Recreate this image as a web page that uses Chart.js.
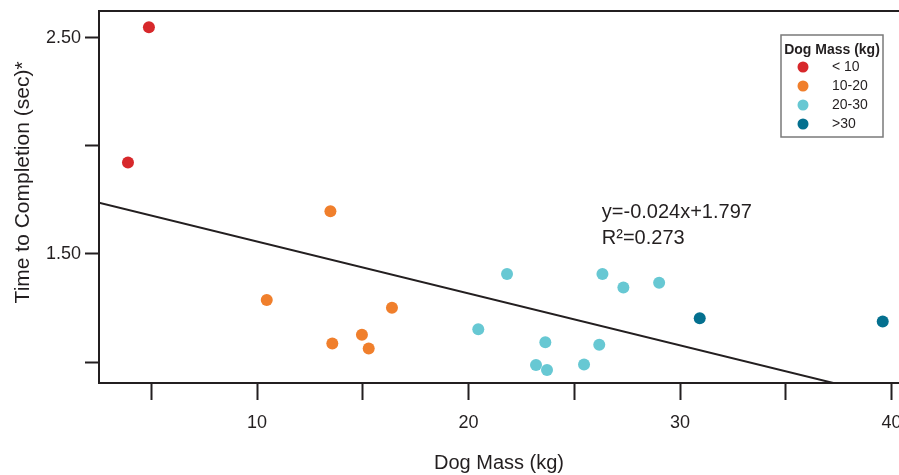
<!DOCTYPE html>
<html>
<head>
<meta charset="utf-8">
<script src="https://cdn.jsdelivr.net/npm/chart.js@4.4.1/dist/chart.umd.min.js"></script>
<style>
  html, body { margin: 0; padding: 0; background: #fff; }
  #wrap { width: 899px; height: 475px; }
</style>
</head>
<body>
<div id="wrap"><canvas id="chart" width="899" height="475"></canvas></div>
<script>
// mass groups
var groups = ['< 10', '10-20', '20-30', '>30'];
var groupColors = ['#d7282b', '#f07f2c', '#67c8d3', '#04708f'];

var massUnder10 = [4.89, 3.90];
var timeUnder10 = [2.548, 1.923];
var mass10to20 = [13.47, 10.46, 16.38, 14.96, 13.56, 15.28];
var time10to20 = [1.697, 1.287, 1.251, 1.126, 1.086, 1.062];
var mass20to30 = [21.82, 26.33, 27.32, 29.01, 20.46, 23.63, 26.18, 23.19, 23.71, 25.46];
var time20to30 = [1.407, 1.407, 1.345, 1.367, 1.151, 1.091, 1.080, 0.986, 0.963, 0.988];
var massOver30 = [30.93, 39.58];
var timeOver30 = [1.202, 1.187];

// linear fit shown on the chart
var fitSlope = -0.024;
var fitIntercept = 1.797;
var fitR2 = 0.273;

var xTickLabels = [10, 20, 30, 40];
var yTickLabels = [1.5, 2.5];
var xMin = 2.53, xMax = 40.35;
var yMin = 0.903, yMax = 2.623;

var INK = '#231f20';
Chart.defaults.font.family = '"Liberation Sans", Arial, sans-serif';
Chart.defaults.color = INK;

function pairs(xs, ys) {
	return xs.map(function (x, i) { return { x: x, y: ys[i] }; });
}

var series = [
	pairs(massUnder10, timeUnder10),
	pairs(mass10to20, time10to20),
	pairs(mass20to30, time20to30),
	pairs(massOver30, timeOver30)
];

var datasets = series.map(function (pts, i) {
	return {
		label: groups[i],
		data: pts,
		pointRadius: 6,
		pointHoverRadius: 6,
		pointBackgroundColor: groupColors[i],
		pointBorderColor: groupColors[i],
		pointBorderWidth: 0
	};
});

datasets.push({
	type: 'line',
	label: 'fit',
	data: [
		{ x: xMin, y: fitSlope * xMin + fitIntercept },
		{ x: xMax, y: fitSlope * xMax + fitIntercept }
	],
	borderColor: INK,
	borderWidth: 2,
	pointRadius: 0,
	fill: false,
	order: 10
});

// scales must not shrink the plot for their end labels
function noPad(s) {
	s.paddingLeft = s.paddingRight = s.paddingTop = s.paddingBottom = 0;
}

var decorPlugin = {
	id: 'decor',
	beforeDatasetsDraw: function (chart) {
		var a = chart.chartArea, ctx = chart.ctx;
		ctx.save();
		ctx.strokeStyle = INK;
		ctx.lineWidth = 2;
		ctx.beginPath();
		ctx.moveTo(a.left - 1, a.top);
		ctx.lineTo(a.right, a.top);
		ctx.stroke();
		ctx.restore();
	},
	afterDraw: function (chart) {
		var a = chart.chartArea, ctx = chart.ctx;
		var xs = chart.scales.x, ys = chart.scales.y;
		ctx.save();

		// equation
		ctx.fillStyle = INK;
		ctx.font = '20px "Liberation Sans", Arial, sans-serif';
		ctx.textAlign = 'left';
		ctx.textBaseline = 'alphabetic';
		var ex = xs.getPixelForValue(26.3), ey = ys.getPixelForValue(1.668);
		ctx.fillText('y=' + fitSlope + 'x+' + fitIntercept, ex, ey);
		ctx.fillText('R\u00b2=' + fitR2, ex, ey + 26);

		// legend box
		var lx = a.right - 118, ly = a.top + 24, lw = 102, lh = 102;
		ctx.strokeStyle = '#7a7a7a';
		ctx.lineWidth = 1.5;
		ctx.strokeRect(lx, ly, lw, lh);
		ctx.font = 'bold 14px "Liberation Sans", Arial, sans-serif';
		ctx.textAlign = 'center';
		ctx.textBaseline = 'middle';
		ctx.fillText('Dog Mass (kg)', lx + lw / 2, ly + 15);
		ctx.font = '14px "Liberation Sans", Arial, sans-serif';
		ctx.textAlign = 'left';
		for (var i = 0; i < groups.length; i++) {
			var ry = ly + 32 + i * 19;
			ctx.fillStyle = chart.data.datasets[i].pointBackgroundColor;
			ctx.beginPath();
			ctx.arc(lx + 22, ry, 5.5, 0, Math.PI * 2);
			ctx.fill();
			ctx.fillStyle = INK;
			ctx.fillText(chart.data.datasets[i].label, lx + 51, ry);
		}
		ctx.restore();
	}
};

new Chart(document.getElementById('chart'), {
	type: 'scatter',
	data: { datasets: datasets },
	options: {
		responsive: false,
		animation: false,
		devicePixelRatio: 1,
		layout: { autoPadding: false, padding: { top: 11, left: 0, right: 0, bottom: 0 } },
		plugins: { legend: { display: false }, tooltip: { enabled: false } },
		scales: {
			x: {
				type: 'linear',
				min: xMin,
				max: xMax,
				afterFit: function (s) { s.height = 92; noPad(s); },
				border: { color: INK, width: 2 },
				grid: { drawOnChartArea: false, drawTicks: true, tickLength: 17, tickWidth: 2, tickColor: INK },
				ticks: {
					stepSize: 5,
					includeBounds: false,
					autoSkip: false,
					maxRotation: 0,
					padding: 12,
					font: { size: 18 },
					callback: function (v) { return xTickLabels.indexOf(v) >= 0 ? String(v) : ''; }
				},
				title: { display: true, text: 'Dog Mass (kg)', font: { size: 20 }, padding: { top: 0, bottom: 0 } }
			},
			y: {
				type: 'linear',
				min: yMin,
				max: yMax,
				afterFit: function (s) { s.width = 99; noPad(s); },
				border: { color: INK, width: 2 },
				grid: { drawOnChartArea: false, drawTicks: true, tickLength: 14, tickWidth: 2, tickColor: INK },
				ticks: {
					stepSize: 0.5,
					includeBounds: false,
					autoSkip: false,
					padding: 4,
					font: { size: 18 },
					callback: function (v) {
						return yTickLabels.some(function (t) { return Math.abs(t - v) < 1e-6; }) ? v.toFixed(2) : '';
					}
				},
				// leading spaces nudge the title up to where the original sits
				title: { display: true, text: '     Time to Completion (sec)*', font: { size: 21 }, padding: { top: 11, bottom: 0 } }
			}
		}
	},
	plugins: [decorPlugin]
});
</script>
</body>
</html>
